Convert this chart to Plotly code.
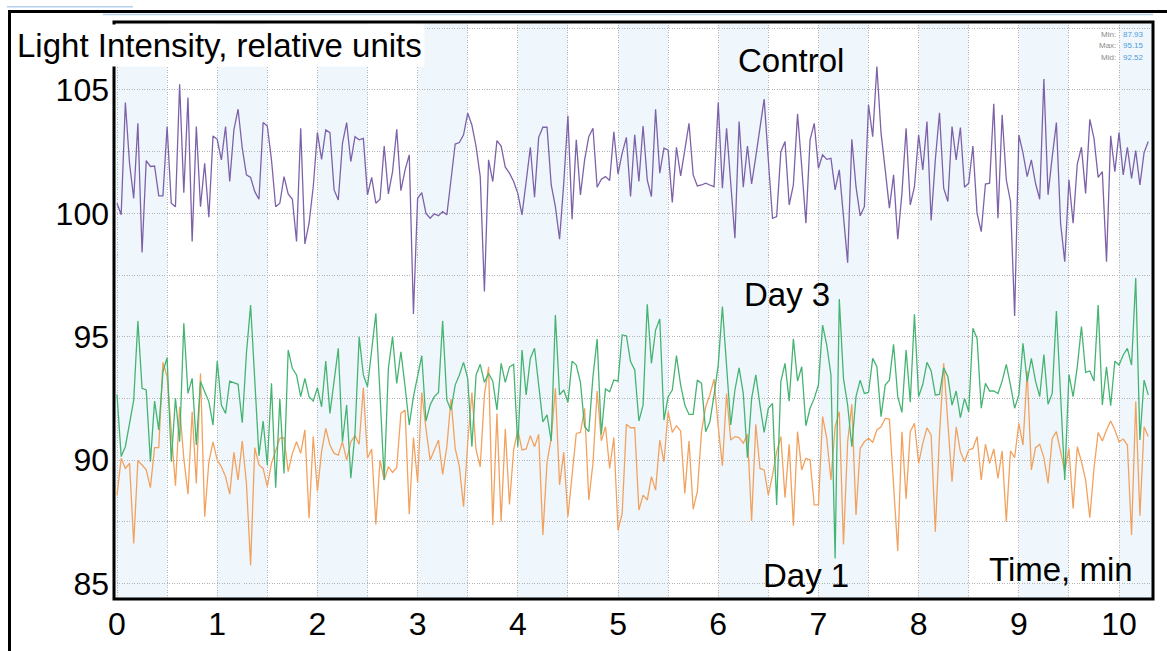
import plotly.graph_objects as go

# ---------------- data ----------------
sample_step_min = 2.5 / 60.0  # one reading every 2.5 s

control = [
    100.41, 99.94, 104.49, 102.03, 100.61, 103.65, 98.41, 102.14, 101.90, 101.92,
    100.71, 100.71, 103.52, 100.41, 100.27, 105.23, 100.84, 104.69, 98.86, 103.52,
    100.27, 102.03, 99.84, 103.14, 103.00, 102.17, 103.52, 101.29, 103.38, 104.22,
    102.64, 101.56, 101.46, 100.88, 100.57, 103.68, 103.54, 102.17, 100.27, 100.41,
    101.49, 100.79, 100.57, 98.86, 103.45, 98.76, 99.60, 101.08, 103.27, 102.19,
    103.38, 103.27, 100.95, 100.54, 102.84, 103.68, 102.10, 103.11, 102.98, 103.04,
    100.75, 101.46, 100.41, 100.57, 102.73, 100.79, 101.69, 103.41, 100.92, 101.76,
    102.37, 95.92, 100.61, 100.84, 100.00, 99.80, 99.98, 99.90, 100.07, 99.94,
    101.36, 102.81, 102.87, 103.18, 104.06, 103.58, 102.71, 101.49, 96.83, 102.17,
    101.29, 102.95, 102.73, 101.87, 101.63, 101.29, 100.81, 99.94, 101.29, 102.68,
    100.65, 103.08, 103.49, 103.49, 101.15, 100.27, 98.95, 101.22, 103.95, 99.76,
    102.98, 100.75, 102.17, 103.11, 103.45, 101.06, 101.38, 101.49, 101.33, 103.31,
    101.60, 102.44, 103.08, 100.68, 103.18, 101.29, 103.54, 101.36, 100.68, 104.22,
    101.63, 102.64, 102.57, 100.44, 102.68, 101.52, 102.57, 103.65, 101.56, 101.11,
    101.15, 101.22, 101.15, 101.08, 104.49, 101.02, 103.45, 101.22, 98.99, 103.72,
    101.06, 102.73, 101.19, 102.30, 103.38, 104.63, 102.17, 99.80, 99.87, 102.50,
    102.91, 100.34, 101.15, 104.03, 101.90, 99.60, 102.98, 103.65, 101.83, 102.37,
    102.19, 102.23, 100.95, 101.76, 99.87, 98.00, 103.00, 101.08, 99.90, 100.27,
    104.40, 103.11, 105.95, 103.25, 101.76, 100.21, 101.56, 98.95, 100.81, 103.45,
    100.34, 101.08, 103.18, 101.76, 103.72, 99.71, 102.17, 104.08, 101.02, 100.48,
    103.52, 102.17, 103.48, 101.06, 101.22, 102.73, 100.00, 99.26, 101.19, 101.22,
    104.44, 99.80, 103.99, 101.36, 100.48, 95.84, 103.18, 102.44, 101.49, 102.17,
    101.22, 100.57, 105.44, 100.75, 102.30, 103.68, 99.60, 98.04, 101.36, 99.60,
    102.00, 102.68, 100.81, 103.81, 103.04, 101.46, 101.69, 98.04, 103.14, 101.69,
    103.27, 101.56, 102.68, 101.42, 102.54, 101.15, 102.46, 102.91,
]

day3 = [
    92.66, 90.14, 90.54, 91.55, 92.43, 95.64, 92.91, 92.84, 89.93, 92.39,
    91.22, 93.58, 94.15, 89.93, 92.50, 90.74, 95.54, 92.70, 93.31, 90.61,
    93.18, 92.77, 92.37, 91.42, 94.01, 92.23, 91.89, 93.20, 93.15, 93.07,
    91.51, 94.33, 96.28, 93.31, 90.18, 91.58, 89.80, 93.11, 88.88, 92.47,
    89.46, 94.46, 93.72, 93.45, 92.57, 93.31, 92.57, 92.39, 92.93, 92.16,
    94.01, 91.89, 93.18, 94.53, 90.74, 92.23, 89.26, 91.08, 95.00, 93.45,
    92.97, 94.39, 95.95, 92.64, 89.19, 93.72, 95.00, 93.11, 94.39, 92.97,
    91.42, 92.57, 93.38, 94.23, 91.58, 92.23, 92.57, 92.74, 95.64, 92.43,
    92.03, 93.04, 93.45, 93.96, 93.31, 90.54, 93.45, 93.88, 93.15, 93.51,
    93.20, 92.03, 93.92, 93.15, 93.78, 93.88, 90.54, 94.46, 92.64, 94.12,
    94.53, 93.04, 91.55, 91.83, 90.77, 95.88, 92.64, 92.84, 92.34, 94.01,
    93.85, 93.15, 91.35, 91.15, 93.38, 94.91, 91.04, 92.88, 92.77, 93.24,
    93.20, 95.07, 95.04, 93.99, 93.65, 91.58, 92.23, 96.31, 93.92, 95.27,
    95.72, 91.62, 92.57, 92.84, 94.23, 93.04, 92.23, 91.85, 91.85, 93.24,
    93.11, 91.15, 91.55, 92.64, 93.85, 96.22, 93.85, 91.42, 92.84, 93.74,
    92.70, 90.10, 92.50, 93.45, 92.23, 91.12, 92.10, 92.30, 88.18, 93.18,
    93.92, 92.39, 94.91, 93.20, 93.78, 91.39, 92.10, 92.50, 93.04, 95.47,
    94.66, 93.45, 86.01, 96.53, 93.31, 92.23, 90.54, 92.57, 93.24, 92.70,
    92.74, 94.12, 93.78, 91.76, 93.04, 93.24, 94.69, 92.57, 91.93, 94.46,
    92.34, 95.91, 92.57, 93.07, 93.96, 93.61, 92.64, 92.66, 93.74, 93.38,
    92.23, 92.80, 91.72, 92.50, 91.96, 95.34, 94.93, 92.10, 93.11, 92.80,
    92.80, 92.70, 93.20, 93.88, 93.04, 92.10, 92.64, 94.73, 93.18, 94.12,
    93.20, 92.57, 94.28, 92.26, 92.70, 96.04, 92.64, 89.19, 93.47, 92.57,
    93.78, 95.41, 93.55, 93.61, 93.20, 96.28, 92.23, 93.78, 92.20, 94.01,
    93.85, 94.26, 94.53, 93.85, 97.38, 90.81, 93.24, 92.64,
]

day1 = [
    88.58, 90.07, 89.66, 89.87, 86.62, 89.97, 89.80, 89.60, 88.88, 90.50,
    90.50, 93.96, 93.38, 91.01, 88.96, 92.16, 90.07, 88.62, 91.96, 89.05,
    93.51, 87.70, 89.93, 90.74, 90.00, 89.73, 89.33, 88.62, 90.31, 89.19,
    90.77, 89.05, 85.74, 90.50, 89.80, 89.66, 88.92, 89.87, 90.34, 90.88,
    90.91, 89.53, 90.27, 90.74, 90.27, 91.22, 87.64, 90.95, 88.74, 90.34,
    91.28, 90.61, 90.27, 90.20, 90.74, 90.00, 90.74, 90.99, 90.64, 92.93,
    90.07, 90.45, 87.39, 90.00, 89.19, 89.73, 89.50, 89.69, 91.89, 92.03,
    87.80, 90.91, 89.10, 92.74, 91.28, 90.00, 90.41, 90.81, 89.42, 90.54,
    92.47, 90.47, 89.73, 88.11, 90.68, 92.74, 90.41, 89.73, 92.64, 93.78,
    87.37, 91.89, 87.50, 91.26, 88.20, 90.41, 91.22, 90.41, 90.45, 90.99,
    90.54, 91.04, 86.96, 89.91, 90.88, 92.91, 88.99, 90.31, 87.70, 89.53,
    91.08, 91.12, 92.10, 88.38, 89.87, 92.80, 90.78, 91.35, 89.66, 90.91,
    87.16, 87.84, 91.45, 91.31, 91.31, 87.97, 88.58, 88.38, 89.33, 88.78,
    90.81, 89.93, 91.96, 91.12, 91.39, 91.18, 88.65, 90.77, 88.01, 88.72,
    91.15, 92.16, 92.64, 93.28, 91.35, 89.77, 92.70, 90.81, 90.95, 90.91,
    90.68, 91.04, 87.53, 91.45, 89.66, 89.60, 88.58, 89.39, 90.34, 90.95,
    88.47, 90.64, 87.34, 91.15, 89.60, 90.07, 90.00, 88.18, 88.18, 91.76,
    90.88, 89.19, 91.35, 91.96, 86.58, 90.74, 92.26, 87.77, 90.47, 90.74,
    90.88, 90.72, 91.22, 91.35, 91.69, 91.66, 88.92, 86.31, 91.15, 88.42,
    91.15, 91.49, 89.87, 90.68, 91.31, 91.01, 87.10, 91.01, 93.92, 91.35,
    89.12, 91.35, 90.34, 89.93, 90.41, 90.47, 90.95, 89.19, 90.64, 89.87,
    90.45, 89.26, 90.37, 87.50, 90.37, 90.10, 91.49, 90.61, 93.61, 89.60,
    90.50, 90.64, 90.10, 89.05, 90.88, 91.15, 90.34, 89.53, 90.47, 88.04,
    90.54, 89.93, 89.19, 87.66, 89.66, 91.12, 90.77, 91.22, 91.58, 91.22,
    90.74, 90.85, 90.61, 86.96, 92.37, 87.74, 91.35, 90.95,
]

series_labels = ["Control", "Day 3", "Day 1"]
x_tick_step = 1
y_tick_values = [85, 90, 95, 100, 105]
stats_labels = ["Min:", "Max:", "Mid:"]
stats_values = ["87.93", "95.15", "92.52"]

# ---------------- layout geometry ----------------
W, H = 1167, 651
PL, PR, PT, PB = 114, 1153, 22, 599          # plot area in page pixels
X_RANGE = [-0.030, 10.339]
Y_RANGE = [84.368, 107.756]
FONT = "Liberation Sans, Arial, Helvetica, sans-serif"


def px(x):
    return (x - PL) / (PR - PL)


def py(y):
    return (PB - y) / (PB - PT)


fig = go.Figure()

colors = {"Control": "#7d62a9", "Day 3": "#45b472", "Day 1": "#f2a25f"}
for name, vals in [("Day 1", day1), ("Day 3", day3), ("Control", control)]:
    fig.add_trace(go.Scatter(
        x0=0, dx=sample_step_min, y=vals, mode="lines", name=name,
        line=dict(color=colors[name], width=1.3), hoverinfo="skip",
    ))

shapes = []
# alternating light-blue half-minute bands
k = 0.0
while k < X_RANGE[1]:
    shapes.append(dict(type="rect", xref="x", yref="paper", x0=k if k > 0 else -1, x1=k + 0.5,
                       y0=0, y1=1, fillcolor="#f0f7fc", line=dict(width=0), layer="below"))
    k += 1.0
# inner frame
shapes.append(dict(type="rect", xref="paper", yref="paper", x0=0, x1=1, y0=0, y1=1,
                   line=dict(color="black", width=3), layer="above"))
# outer frame (top and left)
shapes.append(dict(type="line", xref="paper", yref="paper", x0=px(8), x1=px(1167),
                   y0=py(11.5), y1=py(11.5), line=dict(color="black", width=3)))
shapes.append(dict(type="line", xref="paper", yref="paper", x0=px(9.5), x1=px(9.5),
                   y0=py(10), y1=py(651), line=dict(color="black", width=3)))
# faint light-blue screenshot edges
shapes.append(dict(type="line", xref="paper", yref="paper", x0=px(7), x1=px(133),
                   y0=py(6.7), y1=py(6.7), line=dict(color="#b3d1ee", width=1.5)))
shapes.append(dict(type="line", xref="paper", yref="paper", x0=px(103), x1=px(1153),
                   y0=py(14.5), y1=py(14.5), line=dict(color="#b3d1ee", width=1.5)))

annotations = [
    dict(text="Light Intensity, relative units", x=px(14), y=py(45.5), xref="paper", yref="paper",
         xanchor="left", yanchor="middle", showarrow=False, bgcolor="white", borderpad=2,
         font=dict(family=FONT, size=33, color="black")),
    dict(text=series_labels[0], x=px(791), y=py(60), xref="paper", yref="paper",
         xanchor="center", yanchor="middle", showarrow=False,
         font=dict(family=FONT, size=33, color="black")),
    dict(text=series_labels[1], x=px(786.5), y=py(294), xref="paper", yref="paper",
         xanchor="center", yanchor="middle", showarrow=False,
         font=dict(family=FONT, size=33, color="black")),
    dict(text=series_labels[2], x=px(806), y=py(575), xref="paper", yref="paper",
         xanchor="center", yanchor="middle", showarrow=False,
         font=dict(family=FONT, size=33, color="black")),
    dict(text="Time, min", x=px(1061), y=py(569), xref="paper", yref="paper",
         xanchor="center", yanchor="middle", showarrow=False,
         font=dict(family=FONT, size=33, color="black")),
]
for i, (lab, val) in enumerate(zip(stats_labels, stats_values)):
    yy = 34.3 + i * 11.7
    annotations.append(dict(text=lab, x=px(1118), y=py(yy), xref="paper", yref="paper",
                            xanchor="right", yanchor="middle", showarrow=False,
                            font=dict(family=FONT, size=8, color="#8a8a8a")))
    annotations.append(dict(text=val, x=px(1121), y=py(yy), xref="paper", yref="paper",
                            xanchor="left", yanchor="middle", showarrow=False,
                            font=dict(family=FONT, size=8, color="#4c9be0")))

grid_style = dict(showgrid=True, gridcolor="#b4b4b4", griddash="1px,1.5px", gridwidth=1)

fig.update_layout(
    width=W, height=H, autosize=False,
    margin=dict(l=PL, r=W - PR, t=PT, b=H - PB, pad=0, autoexpand=False),
    paper_bgcolor="white", plot_bgcolor="white",
    showlegend=False,
    shapes=shapes, annotations=annotations,
    font=dict(family=FONT, size=32, color="black"),
    xaxis=dict(range=X_RANGE, tickmode="linear", tick0=0, dtick=x_tick_step, ticks="",
               showline=False, zeroline=False, tickfont=dict(size=32, color="black"),
               ticklabelstandoff=3, automargin=False,
               minor=dict(dtick=0.5, tick0=0, ticks="", **grid_style), **grid_style),
    yaxis=dict(range=Y_RANGE, tickmode="array", tickvals=y_tick_values,
               ticktext=[str(v) for v in y_tick_values], ticks="",
               showline=False, zeroline=False, tickfont=dict(size=32, color="black"),
               ticklabelstandoff=4, automargin=False,
               minor=dict(dtick=2.5, tick0=85, ticks="", **grid_style), **grid_style),
)

fig.write_html("out.html", config={"displayModeBar": False},
               post_script="document.body.style.margin='0';document.body.style.overflow='hidden';")
